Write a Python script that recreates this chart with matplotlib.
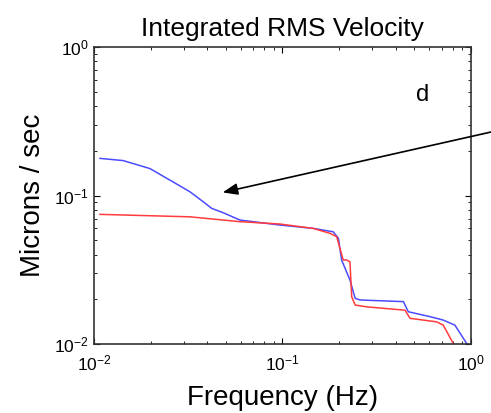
import matplotlib
matplotlib.use("Agg")
import matplotlib.pyplot as plt

plt.rcParams["font.family"] = ["Liberation Sans", "DejaVu Sans"]
plt.rcParams["mathtext.fontset"] = "custom"
plt.rcParams["mathtext.rm"] = "Liberation Sans"
plt.rcParams["mathtext.it"] = "Liberation Sans"

# blue trace (frequency Hz, integrated RMS velocity microns/sec)
blue_f = [0.01076, 0.01428, 0.0198, 0.0253, 0.0323, 0.038, 0.0421, 0.0485, 0.0595,
          0.097, 0.1455, 0.186, 0.198, 0.206, 0.228, 0.243, 0.258, 0.438, 0.465,
          0.605, 0.713, 0.822, 0.948, 1.0]
blue_v = [0.178, 0.172, 0.152, 0.127, 0.106, 0.0908, 0.082, 0.0766, 0.0684,
          0.0633, 0.0601, 0.057, 0.0515, 0.0368, 0.027, 0.0203, 0.0198, 0.0193, 0.0165,
          0.0153, 0.0145, 0.0134, 0.0101, 0.0095]

# red trace
red_f = [0.01076, 0.0323, 0.0595, 0.097, 0.1455, 0.179, 0.194, 0.210, 0.219, 0.228,
         0.233, 0.243, 0.280, 0.447, 0.475, 0.658, 0.713, 0.805, 0.83]
red_v = [0.0747, 0.0719, 0.0667, 0.0643, 0.0601, 0.0556, 0.0528, 0.0368, 0.0368, 0.0358,
         0.0208, 0.0183, 0.0178, 0.0169, 0.0149, 0.0141, 0.0134, 0.0101, 0.0095]

fig = plt.figure(figsize=(4.91, 4.13), dpi=100)
ax = fig.add_axes([0.1914, 0.167, 0.7678, 0.719])

ax.plot(blue_f, blue_v, color="#4b4bff", linewidth=1.1)
ax.plot(red_f, red_v, color="#ff3b3b", linewidth=1.1)

ax.set_xscale("log")
ax.set_yscale("log")
ax.set_xlim(1e-2, 1e0)
ax.set_ylim(1e-2, 1e0)
ax.set_xticks([1e-2, 1e-1, 1e0])
ax.set_yticks([1e-2, 1e-1, 1e0])
ax.tick_params(which="both", direction="in", top=True, right=True, labelsize=12.5)
ax.tick_params(which="major", length=4)
ax.tick_params(which="minor", length=2)
ax.tick_params(axis="x", pad=7)
for s in ax.spines.values():
    s.set_linewidth(1.2)
    s.set_color("#333333")

ax.set_title("Integrated RMS Velocity", fontsize=19, pad=8)
ax.set_xlabel("Frequency (Hz)", fontsize=20, labelpad=8)
ax.set_ylabel("Microns / sec", fontsize=20, labelpad=6)

ax.text(0.873, 0.838, "d", transform=ax.transAxes, fontsize=17, ha="center", va="center")

ax.annotate("", xy=(0.0466, 0.104), xycoords="data",
            xytext=(1.01, 0.683), textcoords="figure fraction",
            arrowprops=dict(arrowstyle="-|>,head_length=0.9,head_width=0.35",
                            color="black", linewidth=1.2),
            annotation_clip=False)

fig.savefig("out.png", dpi=100)
